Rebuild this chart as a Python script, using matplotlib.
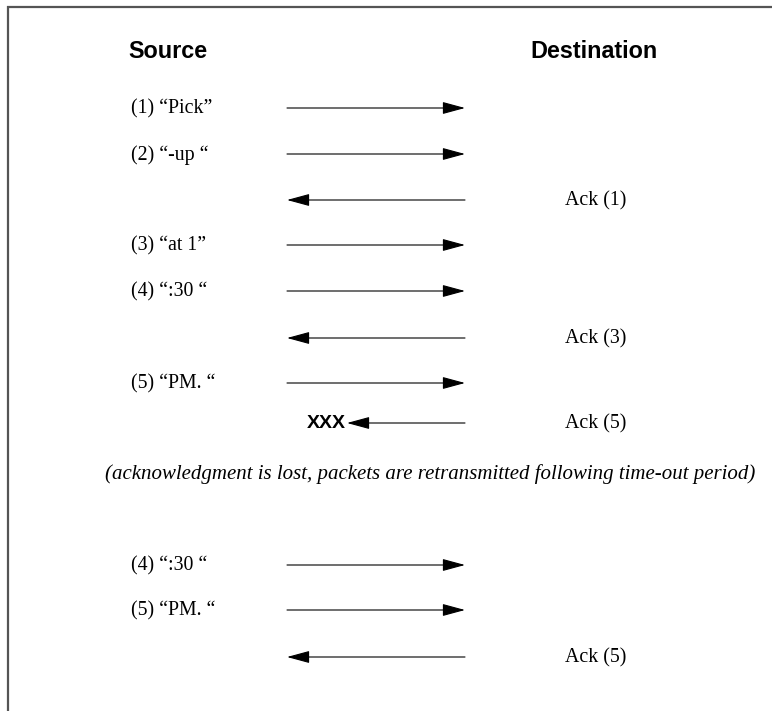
import matplotlib
matplotlib.use("Agg")
import matplotlib.pyplot as plt

W, H = 772, 711
headers = ["Source", "Destination"]
header_x = [168, 594]
header_y = 51

# message rows: label on source side, direction (+1 src->dst, -1 dst->src), y pixel
src_labels = ["(1) \u201cPick\u201d", "(2) \u201c-up \u201c", "", "(3) \u201cat 1\u201d", "(4) \u201c:30 \u201c",
              "", "(5) \u201cPM. \u201c", "", "(4) \u201c:30 \u201c", "(5) \u201cPM. \u201c", ""]
dst_labels = ["", "", "Ack (1)", "", "", "Ack (3)", "", "Ack (5)", "", "", "Ack (5)"]
directions = [1, 1, -1, 1, 1, -1, 1, -1, 1, 1, -1]
lost = [False, False, False, False, False, False, False, True, False, False, False]
row_y = [108, 154, 200, 245, 291, 338, 383, 423, 565, 610, 657]
note = "(acknowledgment is lost, packets are retransmitted following time-out period)"
note_y = 474

fig = plt.figure(figsize=(W / 100, H / 100), dpi=100)
ax = fig.add_axes([0, 0, 1, 1])
ax.set_xlim(0, W)
ax.set_ylim(H, 0)
ax.axis("off")

# frame
ax.plot([7, W], [6.5, 6.5], color="#555555", lw=1.6, solid_capstyle="butt")
ax.plot([7.5, 7.5], [6, H], color="#555555", lw=1.6, solid_capstyle="butt")

sans = "Liberation Sans"
serif = "Liberation Serif"

for t, x in zip(headers, header_x):
    ax.text(x, header_y, t, ha="center", va="center", fontsize=16.8,
            fontweight="bold", family=sans)

x_src, x_dst = 287, 465
x_lost = 347
style = "-|>,head_length=14,head_width=3.8"
for sl, dl, d, lo, y in zip(src_labels, dst_labels, directions, lost, row_y):
    if sl:
        ax.text(131, y + 1, sl, ha="left", va="center", fontsize=14.3, family=serif)
    if dl:
        ax.text(565, y + 1, dl, ha="left", va="center", fontsize=14.3, family=serif)
    if d > 0:
        start, end = x_src, x_dst
    else:
        start, end = x_dst, (x_lost if lo else x_src)
    ax.annotate("", xy=(end, y), xytext=(start, y),
                arrowprops=dict(arrowstyle=style, mutation_scale=1, color="black",
                                lw=0.8, shrinkA=0, shrinkB=0))
    if lo:
        ax.text(x_lost - 1, y, "XXX", ha="right", va="center", fontsize=14,
                fontweight="bold", family=sans)

ax.text(430, note_y, note, ha="center", va="center", fontsize=15, family=serif,
        style="italic")

fig.savefig("out.png", dpi=100)
